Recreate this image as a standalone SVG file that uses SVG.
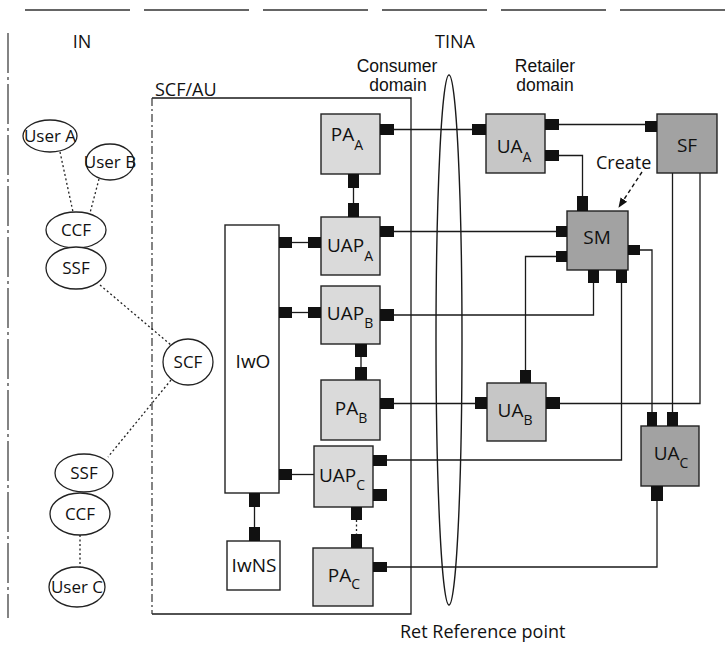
<svg xmlns="http://www.w3.org/2000/svg" width="728" height="648" viewBox="0 0 728 648">
<defs>
<style>
text{font-family:"Open Sans","Liberation Sans",sans-serif;fill:#111;}
.lbl{font-size:18px;}
.dom{font-family:"Liberation Sans",Arial,sans-serif;font-size:17.5px;text-anchor:middle;}
.nl{font-size:19px;text-anchor:middle;}
.sub{font-size:14px;}
.el{font-size:17px;text-anchor:middle;}
.box{stroke:#222;stroke-width:1.4;}
.light{fill:#dadada;}
.med{fill:#c6c6c6;}
.dark{fill:#a2a2a2;}
.white{fill:#fff;}
.port{fill:#111;}
.ln{fill:none;stroke:#1a1a1a;stroke-width:1.3;}
.dot{fill:none;stroke:#222;stroke-width:1.3;stroke-dasharray:2 2.5;}
.ell{fill:#fff;stroke:#222;stroke-width:1.3;}
</style>
<marker id="ah" viewBox="0 0 10 10" refX="9" refY="5" markerWidth="7" markerHeight="7" orient="auto">
<path d="M0,1 L10,5 L0,9 z" fill="#111"/>
</marker>
</defs>
<rect width="728" height="648" fill="#fff"/>

<g id="frame">
<path d="M25,10 H728" stroke="#333" stroke-width="1.4" stroke-dasharray="105 14" fill="none"/>
<path d="M8,33 V618" stroke="#333" stroke-width="1.2" stroke-dasharray="40 4 3 4" fill="none"/>
<path d="M152,98 H411 V614 H152" class="ln"/>
<path d="M152,98 V614" stroke="#333" stroke-width="1.2" stroke-dasharray="8 3 2 3" fill="none"/>
<ellipse cx="449" cy="340" rx="13" ry="265" fill="none" stroke="#1a1a1a" stroke-width="1.4"/>
</g>

<g id="labels">
<text class="lbl" x="82" y="48" text-anchor="middle">IN</text>
<text class="lbl" x="455" y="48" text-anchor="middle">TINA</text>
<text class="lbl" x="155" y="96">SCF/AU</text>
<text class="dom" x="397" y="72">Consumer</text>
<text class="dom" x="398" y="91">domain</text>
<text class="dom" x="545" y="72">Retailer</text>
<text class="dom" x="545" y="91">domain</text>
<text class="lbl" x="596" y="169">Create</text>
<text class="lbl" x="400" y="638">Ret Reference point</text>
</g>

<g id="connectors">
<path class="dot" d="M60,152 L73,212"/>
<path class="dot" d="M99,179 L90,213"/>
<path class="dot" d="M100,285 L171,345"/>
<path class="dot" d="M171,380 L108,457"/>
<path class="dot" d="M80,535 V567"/>
<path class="ln" d="M394,129.5 H472"/>
<path class="ln" d="M353.5,188 V203"/>
<path class="ln" d="M292,242.5 H308"/>
<path class="ln" d="M292,312.5 H308"/>
<path class="ln" d="M292,474.5 H314"/>
<path class="ln" d="M254.5,507 V527"/>
<path class="ln" d="M361,357 V367"/>
<path class="dot" d="M356.5,520 V534"/>
<path class="ln" d="M394,231.5 H556"/>
<path class="ln" d="M394,315 H593.5 V283"/>
<path class="ln" d="M394,403.5 H475"/>
<path class="ln" d="M387,460 H621.5 V283"/>
<path class="ln" d="M387,567 H657 V501"/>
<path class="ln" d="M559,124.5 H645"/>
<path class="ln" d="M559,155.5 H582.5 V196"/>
<path class="ln" d="M556,256.5 H525.5 V370"/>
<path class="ln" d="M640,250 H652 V412"/>
<path class="ln" d="M672.5,173 V412"/>
<path class="ln" d="M700,173 V403.5 H560"/>
<path d="M642,172 L619,207" fill="none" stroke="#111" stroke-width="1.4" stroke-dasharray="4 3" marker-end="url(#ah)"/>
</g>

<g id="userA"><ellipse class="ell" cx="50" cy="136" rx="27" ry="16"/><text class="el" x="50" y="142">User A</text></g>
<g id="userB"><ellipse class="ell" cx="110" cy="162" rx="24" ry="18"/><text class="el" x="110" y="168">User B</text></g>
<g id="ccf1"><ellipse class="ell" cx="76" cy="230" rx="30" ry="18"/><text class="el" x="76" y="236">CCF</text></g>
<g id="ssf1"><ellipse class="ell" cx="76" cy="268" rx="30" ry="21"/><text class="el" x="76" y="274">SSF</text></g>
<g id="scf"><ellipse class="ell" cx="188" cy="362" rx="25" ry="23"/><text class="el" x="188" y="368">SCF</text></g>
<g id="ssf2"><ellipse class="ell" cx="84" cy="473" rx="29" ry="19"/><text class="el" x="84" y="479">SSF</text></g>
<g id="ccf2"><ellipse class="ell" cx="80" cy="514" rx="30" ry="21"/><text class="el" x="80" y="520">CCF</text></g>
<g id="userC"><ellipse class="ell" cx="77" cy="587" rx="28" ry="20"/><text class="el" x="77" y="593">User C</text></g>

<g id="IwO"><rect class="box white" x="225" y="225" width="54" height="268"/><text class="nl" x="253" y="368">IwO</text>
<rect class="port" x="279" y="237" width="13" height="11"/><rect class="port" x="279" y="307" width="13" height="11"/><rect class="port" x="279" y="469" width="13" height="11"/><rect class="port" x="249" y="493" width="11" height="14"/></g>
<g id="IwNS"><rect class="box white" x="227" y="541" width="53" height="49"/><text class="nl" x="254" y="572">IwNS</text>
<rect class="port" x="249" y="527" width="11" height="14"/></g>

<g id="PA_A"><rect class="box light" x="321" y="114" width="59" height="60"/><text class="nl" x="347" y="141">PA<tspan class="sub" dy="9">A</tspan></text>
<rect class="port" x="380" y="124" width="14" height="11"/><rect class="port" x="348" y="174" width="11" height="14"/></g>
<g id="UAP_A"><rect class="box light" x="321" y="217" width="59" height="58"/><text class="nl" x="350" y="252">UAP<tspan class="sub" dy="9">A</tspan></text>
<rect class="port" x="348" y="203" width="11" height="14"/><rect class="port" x="308" y="237" width="13" height="11"/><rect class="port" x="380" y="226" width="14" height="11"/></g>
<g id="UAP_B"><rect class="box light" x="321" y="286" width="59" height="58"/><text class="nl" x="350" y="320">UAP<tspan class="sub" dy="8">B</tspan></text>
<rect class="port" x="308" y="307" width="13" height="11"/><rect class="port" x="380" y="309" width="14" height="12"/><rect class="port" x="355" y="344" width="12" height="13"/></g>
<g id="PA_B"><rect class="box light" x="321" y="380" width="59" height="60"/><text class="nl" x="351" y="415">PA<tspan class="sub" dy="8">B</tspan></text>
<rect class="port" x="355" y="367" width="12" height="13"/><rect class="port" x="380" y="398" width="14" height="11"/></g>
<g id="UAP_C"><rect class="box light" x="314" y="446" width="59" height="61"/><text class="nl" x="342" y="482">UAP<tspan class="sub" dy="8">C</tspan></text>
<rect class="port" x="373" y="455" width="14" height="11"/><rect class="port" x="373" y="489" width="14" height="12"/><rect class="port" x="351" y="507" width="11" height="13"/></g>
<g id="PA_C"><rect class="box light" x="313" y="548" width="60" height="58"/><text class="nl" x="344" y="582">PA<tspan class="sub" dy="7">C</tspan></text>
<rect class="port" x="351" y="534" width="11" height="14"/><rect class="port" x="373" y="562" width="14" height="10"/></g>

<g id="UA_A"><rect class="box med" x="486" y="114" width="59" height="59"/><text class="nl" x="514" y="153">UA<tspan class="sub" dy="9">A</tspan></text>
<rect class="port" x="472" y="124" width="14" height="11"/><rect class="port" x="545" y="119" width="14" height="11"/><rect class="port" x="545" y="150" width="14" height="11"/></g>
<g id="SF"><rect class="box dark" x="657" y="114" width="60" height="59"/><text class="nl" x="687" y="152">SF</text>
<rect class="port" x="645" y="121" width="12" height="11"/></g>
<g id="SM"><rect class="box dark" x="567" y="211" width="61" height="59"/><text class="nl" x="597" y="244">SM</text>
<rect class="port" x="577" y="196" width="11" height="15"/><rect class="port" x="556" y="226" width="11" height="11"/><rect class="port" x="556" y="251" width="11" height="11"/><rect class="port" x="628" y="245" width="12" height="10"/><rect class="port" x="588" y="270" width="11" height="13"/><rect class="port" x="616" y="270" width="11" height="13"/></g>
<g id="UA_B"><rect class="box med" x="487" y="383" width="59" height="58"/><text class="nl" x="515" y="417">UA<tspan class="sub" dy="8">B</tspan></text>
<rect class="port" x="520" y="370" width="11" height="13"/><rect class="port" x="475" y="397" width="12" height="12"/><rect class="port" x="546" y="397" width="14" height="12"/></g>
<g id="UA_C"><rect class="box dark" x="641" y="426" width="58" height="60"/><text class="nl" x="671" y="460">UA<tspan class="sub" dy="8">C</tspan></text>
<rect class="port" x="647" y="412" width="10" height="14"/><rect class="port" x="667" y="412" width="11" height="14"/><rect class="port" x="651" y="486" width="12" height="15"/></g>
</svg>
